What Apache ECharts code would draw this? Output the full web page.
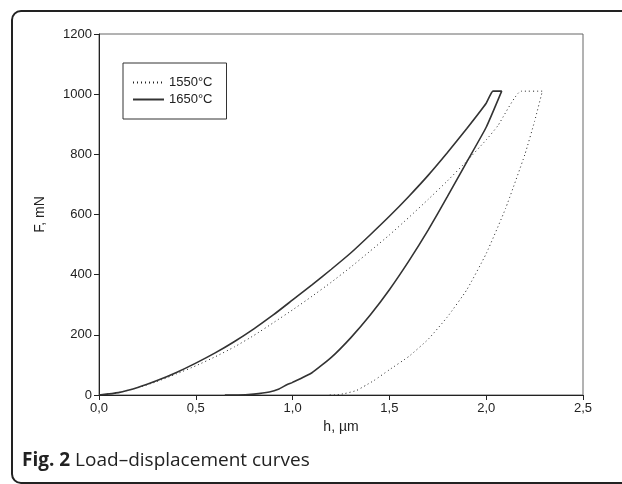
<!DOCTYPE html>
<html>
<head>
<meta charset="UTF-8">
<title>Load-displacement curves</title>
<script src="https://cdn.jsdelivr.net/npm/echarts@6/dist/echarts.min.js"></script>
<style>
  body { margin: 0; background: #fff; }
  #frame {
    position: absolute; left: 11px; top: 10px; width: 700px; height: 470px;
    border: 2px solid #222; border-radius: 10px;
  }
  #main { position: absolute; left: 0; top: 0; width: 622px; height: 484px; }
  #caption {
    position: absolute; left: 22px; top: 446px;
    font-family: "Open Sans", sans-serif; font-size: 19px; color: #222;
  }
</style>
</head>
<body>
<div id="frame"></div>
<div id="main"></div>
<div id="caption"><b>Fig. 2</b> Load–displacement curves</div>

<script type="text/javascript">
    // h, um / F, mN: loading, hold, unloading
    var curve1550 = [
        [0, 0], [0.1, 8], [0.2, 24], [0.3, 45], [0.4, 70], [0.5, 97], [0.6, 127],
        [0.7, 160], [0.8, 198], [0.9, 240], [1.0, 283], [1.1, 328], [1.2, 375],
        [1.3, 425], [1.4, 478], [1.5, 532], [1.6, 590], [1.7, 650], [1.8, 712],
        [1.9, 778], [2.0, 848], [2.06, 895], [2.18, 1010],
        [2.29, 1010],
        [2.25, 910], [2.2, 800], [2.1, 620], [2.0, 470], [1.9, 350], [1.8, 260],
        [1.7, 185], [1.6, 128], [1.5, 84], [1.42, 48], [1.38, 33], [1.33, 15],
        [1.27, 5], [1.22, 0], [1.18, 0]
    ];
    var curve1650 = [
        [0, 0], [0.1, 8], [0.2, 25], [0.3, 48], [0.4, 75], [0.5, 106], [0.6, 140],
        [0.7, 178], [0.8, 220], [0.9, 266], [1.0, 316], [1.1, 366], [1.2, 418],
        [1.3, 472], [1.4, 532], [1.5, 594], [1.6, 660], [1.7, 730], [1.8, 806],
        [1.9, 886], [2.0, 970], [2.035, 1010],
        [2.08, 1010],
        [2.0, 890], [1.9, 775], [1.8, 660], [1.7, 548], [1.6, 445], [1.5, 350],
        [1.4, 265], [1.3, 190], [1.2, 125], [1.1, 74], [1.0, 42], [0.97, 34],
        [0.93, 20], [0.88, 10], [0.8, 3], [0.72, 0], [0.65, 0]
    ];
    var seriesNames = ['1550°C', '1650°C'];

    var comma = function (v) {
        return v.toFixed(1).replace('.', ',');
    };

    var myChart = echarts.init(document.getElementById('main'));
    var font = '"Liberation Sans", Arial, sans-serif';
    var option = {
        animation: false,
        textStyle: { fontFamily: font },
        grid: {
            left: 99, right: 39, top: 34, bottom: 89,
            show: true, borderColor: '#666', borderWidth: 1
        },
        legend: {
            left: 123, top: 63,
            orient: 'vertical',
            data: seriesNames,
            itemWidth: 31, itemHeight: 14, itemGap: 4,
            padding: [13, 14, 13, 9],
            borderColor: '#333', borderWidth: 1,
            itemStyle: { opacity: 0 },
            textStyle: { fontFamily: font, fontSize: 13, color: '#222' }
        },
        xAxis: {
            type: 'value',
            min: 0, max: 2.5, interval: 0.5,
            name: 'h, µm',
            nameLocation: 'middle',
            nameGap: 24,
            nameTextStyle: { fontFamily: font, fontSize: 14, color: '#222' },
            axisLine: { lineStyle: { color: '#222' } },
            axisTick: { inside: false, length: 5, lineStyle: { color: '#222' } },
            axisLabel: { formatter: comma, fontSize: 13, color: '#222', margin: 7 },
            splitLine: { show: false }
        },
        yAxis: {
            type: 'value',
            min: 0, max: 1200, interval: 200,
            name: 'F, mN',
            nameLocation: 'middle',
            nameGap: 52,
            nameTextStyle: { fontFamily: font, fontSize: 14, color: '#222' },
            axisLine: { show: true, lineStyle: { color: '#222' } },
            axisTick: { show: true, length: 5, lineStyle: { color: '#222' } },
            axisLabel: {
                formatter: function (v) { return String(v); },
                fontSize: 13, color: '#222', margin: 7
            },
            splitLine: { show: false }
        },
        series: [
            {
                name: seriesNames[0],
                type: 'line',
                data: curve1550,
                symbol: 'none',
                smooth: 0.15,
                lineStyle: { color: '#222', width: 1, type: [1, 3] },
                itemStyle: { color: '#222' }
            },
            {
                name: seriesNames[1],
                type: 'line',
                data: curve1650,
                symbol: 'none',
                smooth: 0.15,
                lineStyle: { color: '#333', width: 1.6 },
                itemStyle: { color: '#333' }
            }
        ]
    };
    myChart.setOption(option);
</script>
</body>
</html>
